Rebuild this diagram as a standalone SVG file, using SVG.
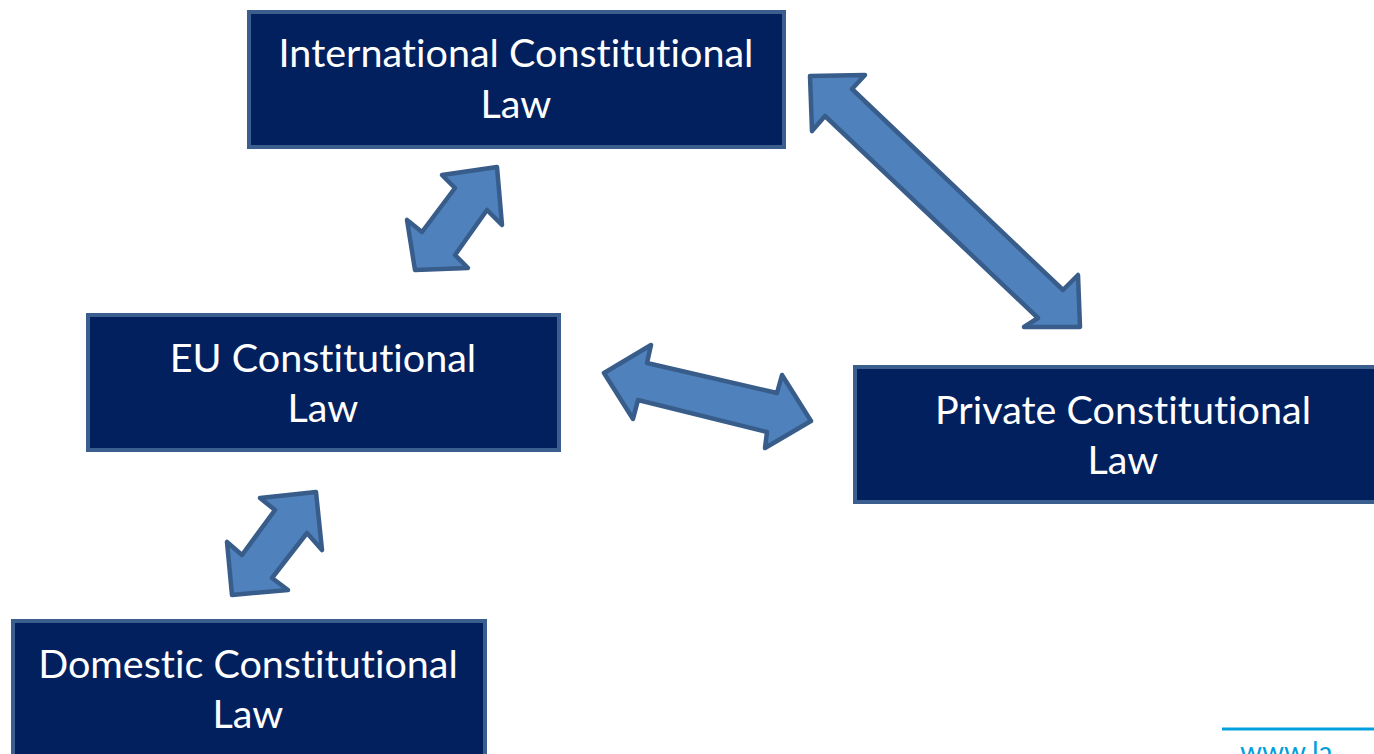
<svg xmlns="http://www.w3.org/2000/svg" width="1374" height="754" viewBox="0 0 1374 754">
<style>
.box{fill:#02205E;stroke:#3A5F8F;stroke-width:4}
.lbl{fill:#FFFFFF;font-family:Lato,"Open Sans","Liberation Sans",sans-serif;font-size:39.5px;text-anchor:middle;font-variant-ligatures:none;font-feature-settings:"liga" 0}
.arr{fill:#4F81BD;stroke:#385D8A;stroke-width:4.5;stroke-linejoin:round}
</style>
<rect width="1374" height="754" fill="#FFFFFF"/>
<g id="connectors">
<polygon class="arr" points="810,76 865,75 852,89 1063,290 1078,275 1080,327 1024,327 1038,318 825,116 812,131"/>
<polygon class="arr" points="604,373 651,345 647,363 777,393 782,375 811,421 765,448 767,432 638,400 633,419"/>
<polygon class="arr" points="497,167 442,175 455,188 422,232 407,220 415,270 468,268 455,255 487,210 502,225"/>
<polygon class="arr" points="316,492 260,498 275,510 242,555 227,542 232,595 288,590 272,578 307,533 322,550"/>
</g>
<g id="international">
<rect class="box" x="249" y="12" width="535" height="135"/>
<text class="lbl" x="516" y="67">International Constitutional</text>
<text class="lbl" x="516" y="118">Law</text>
</g>
<g id="eu">
<rect class="box" x="88" y="315" width="471" height="135"/>
<text class="lbl" x="323" y="372">EU Constitutional</text>
<text class="lbl" x="323" y="422">Law</text>
</g>
<g id="private">
<rect class="box" x="855" y="367" width="540" height="135"/>
<text class="lbl" x="1123" y="424">Private Constitutional</text>
<text class="lbl" x="1123" y="474">Law</text>
</g>
<g id="domestic">
<rect class="box" x="13" y="621" width="472" height="145"/>
<text class="lbl" x="248" y="678">Domestic Constitutional</text>
<text class="lbl" x="248" y="728">Law</text>
</g>
<g id="footer">
<line x1="1222" y1="729" x2="1374" y2="729" stroke="#00A0DC" stroke-width="3"/>
<text x="1240" y="762" fill="#00A0DC" font-family="Lato,'Open Sans','Liberation Sans',sans-serif" font-size="28">www.la</text>
</g>
</svg>
